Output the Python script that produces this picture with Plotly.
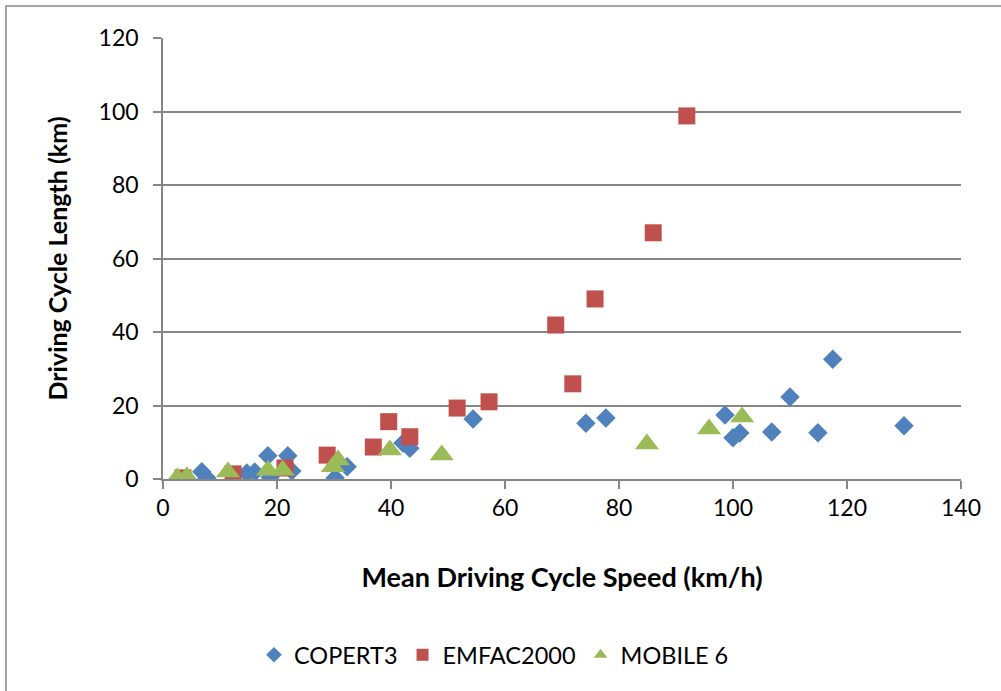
import plotly.graph_objects as go

copert_x = [6.8, 7.7, 14.7, 16.1, 18.4, 18.8, 21.9, 22.6, 30.2, 32.3, 42.1, 43.3, 54.4, 74.2, 77.7, 98.6, 100.0, 101.2, 106.8, 110.0, 114.9, 117.5, 130.0]
copert_y = [2.0, 0.3, 1.6, 1.9, 6.3, 0.5, 6.3, 2.2, 0.3, 3.3, 9.8, 8.4, 16.3, 15.2, 16.6, 17.4, 11.2, 12.5, 12.8, 22.3, 12.6, 32.6, 14.5]

emfac_x = [3.5, 12.3, 21.4, 28.8, 36.9, 39.6, 43.3, 51.6, 57.2, 68.9, 71.9, 75.8, 86.0, 91.9]
emfac_y = [0.3, 1.4, 3.0, 6.5, 8.7, 15.6, 11.5, 19.3, 21.0, 41.9, 25.9, 49.0, 67.0, 98.8]

mobile_x = [2.5, 4.2, 11.4, 18.4, 21.0, 29.8, 30.7, 39.8, 48.9, 84.9, 95.8, 101.6]
mobile_y = [0.3, 0.6, 1.9, 2.4, 2.4, 3.3, 5.2, 7.9, 6.5, 9.5, 13.6, 16.9]

x_ticks = [0, 20, 40, 60, 80, 100, 120, 140]
y_ticks = [0, 20, 40, 60, 80, 100, 120]

FONT = "Lato"
fig = go.Figure()
fig.add_trace(go.Scatter(x=copert_x, y=copert_y, mode="markers", name="COPERT3",
                         marker=dict(symbol="diamond", size=15, color="#4F81BD")))
fig.add_trace(go.Scatter(x=emfac_x, y=emfac_y, mode="markers", name="EMFAC2000",
                         marker=dict(symbol="square", size=17, color="#C0504D")))
fig.add_trace(go.Scatter(x=mobile_x, y=mobile_y, mode="markers", name="MOBILE 6",
                         marker=dict(symbol="triangle-up", size=21, color="#9BBB59")))

W, H = 1001, 691
L, R, T, B = 163, 40, 38, 212
pw, ph = W - L - R, H - T - B

def px(xp):
    return (xp - L) / pw

def py(yp):
    return 1 - (yp - T) / ph

fig.update_layout(
    width=W, height=H,
    margin=dict(l=L, r=R, t=T, b=B),
    paper_bgcolor="white", plot_bgcolor="white",
    font=dict(family=FONT, size=22, color="#000000"),
    showlegend=True,
    legend=dict(orientation="h", x=px(494), xanchor="center", y=py(655), yanchor="middle",
                font=dict(family=FONT, size=23.5), itemsizing="constant", itemwidth=30,
                tracegroupgap=0),
    xaxis=dict(range=[0, 140], tickvals=x_ticks, showgrid=False,
               showline=True, linecolor="#868686", linewidth=1.5,
               ticks="outside", ticklen=8, tickcolor="#868686", tickwidth=1.5,
               tickfont=dict(family=FONT, size=23), zeroline=False,
               title=dict(text="<b>Mean Driving Cycle Speed (km/h)</b>",
                          font=dict(family=FONT, size=27), standoff=48)),
    yaxis=dict(range=[0, 120], tickvals=y_ticks, showgrid=True,
               gridcolor="#868686", gridwidth=1.5,
               showline=True, linecolor="#868686", linewidth=1.5,
               ticks="outside", ticklen=8, tickcolor="#868686", tickwidth=1.5,
               tickfont=dict(family=FONT, size=23), zeroline=False,
               ticklabelstandoff=10,
               title=dict(text="<b>Driving Cycle Length (km)</b>",
                          font=dict(family=FONT, size=25), standoff=24)),
)

fig.add_shape(type="rect", xref="paper", yref="paper",
              x0=px(6), x1=px(1010), y0=py(700), y1=py(6),
              line=dict(color="#868686", width=1.5), fillcolor="rgba(0,0,0,0)", layer="below")

fig.write_html("out.html", config={"displayModeBar": False},
               post_script="document.body.style.margin='0px';")
